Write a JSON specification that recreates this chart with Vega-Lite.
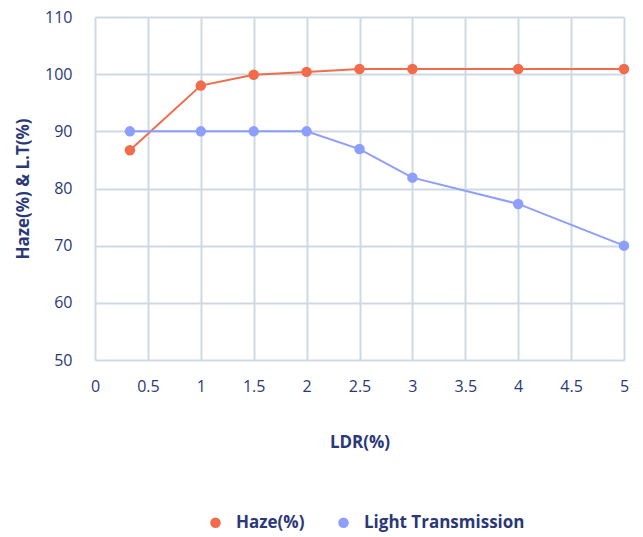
{
  "$schema": "https://vega.github.io/schema/vega-lite/v6.json",
  "width": 529,
  "height": 343,
  "autosize": {"type": "none"},
  "padding": {"left": 95, "top": 17, "right": 19, "bottom": 177},
  "background": "white",
  "config": {
    "view": {"stroke": null},
    "font": "Open Sans",
    "axis": {
      "gridColor": "#cfd9e3",
      "gridWidth": 2,
      "domain": false,
      "ticks": false,
      "labelFont": "Open Sans",
      "labelFontSize": 16,
      "labelColor": "#2b3878",
      "titleFont": "Open Sans",
      "titleFontSize": 17,
      "titleFontWeight": "bold",
      "titleColor": "#2b3878"
    }
  },
  "data": {
    "values": [
      {"x": 0.33, "value": 86.7, "series": "Haze(%)"},
      {"x": 1, "value": 98.0, "series": "Haze(%)"},
      {"x": 1.5, "value": 99.9, "series": "Haze(%)"},
      {"x": 2, "value": 100.4, "series": "Haze(%)"},
      {"x": 2.5, "value": 100.9, "series": "Haze(%)"},
      {"x": 3, "value": 100.9, "series": "Haze(%)"},
      {"x": 4, "value": 100.9, "series": "Haze(%)"},
      {"x": 5, "value": 100.9, "series": "Haze(%)"},
      {"x": 0.33, "value": 90, "series": "Light Transmission"},
      {"x": 1, "value": 90, "series": "Light Transmission"},
      {"x": 1.5, "value": 90, "series": "Light Transmission"},
      {"x": 2, "value": 90, "series": "Light Transmission"},
      {"x": 2.5, "value": 86.9, "series": "Light Transmission"},
      {"x": 3, "value": 81.9, "series": "Light Transmission"},
      {"x": 4, "value": 77.3, "series": "Light Transmission"},
      {"x": 5, "value": 70, "series": "Light Transmission"}
    ]
  },
  "encoding": {
    "x": {
      "field": "x",
      "type": "quantitative",
      "title": "LDR(%)",
      "scale": {"domain": [0, 5], "nice": false, "zero": false},
      "axis": {"values": [0, 0.5, 1, 1.5, 2, 2.5, 3, 3.5, 4, 4.5, 5], "format": "~g", "labelPadding": 18, "titlePadding": 40, "labelFlush": false}
    },
    "y": {
      "field": "value",
      "type": "quantitative",
      "title": "Haze(%) & L.T(%)",
      "scale": {"domain": [50, 110], "nice": false, "zero": false},
      "axis": {"values": [50, 60, 70, 80, 90, 100, 110], "labelPadding": 23, "titlePadding": 12}
    },
    "color": {
      "field": "series",
      "type": "nominal",
      "scale": {"domain": ["Haze(%)", "Light Transmission"], "range": ["#f26b4b", "#8d9efc"]},
      "legend": {
        "title": null,
        "orient": "none",
        "direction": "horizontal",
        "legendX": 112,
        "legendY": 497,
        "symbolType": "circle",
        "symbolSize": 110,
        "symbolStrokeWidth": 0,
        "labelFont": "Open Sans",
        "labelFontSize": 17,
        "labelFontWeight": "bold",
        "labelColor": "#2b3878",
        "labelOffset": 12,
        "labelLimit": 400,
        "columnPadding": 30
      }
    }
  },
  "layer": [
    {"mark": {"type": "line", "strokeWidth": 2}},
    {"mark": {"type": "point", "filled": true, "size": 110, "opacity": 1}}
  ]
}
